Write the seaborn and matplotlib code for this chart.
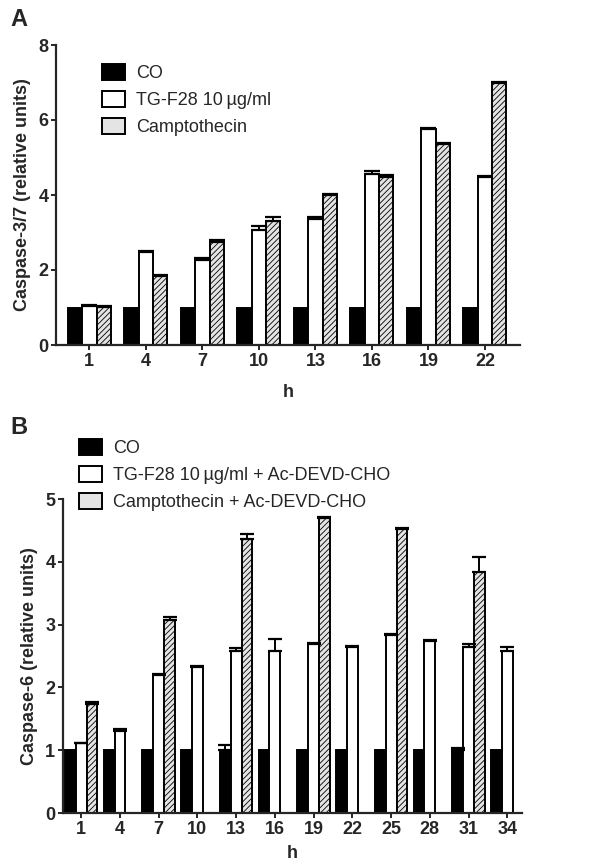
import numpy as np
import pandas as pd
import matplotlib
matplotlib.use('Agg')
import matplotlib.pyplot as plt
import seaborn as sns

# panel A: caspase-3/7
hours_a = ['1', '4', '7', '10', '13', '16', '19', '22']
co_a = [1, 1, 1, 1, 1, 1, 1, 1]
tg_a = [1.04, 2.47, 2.27, 3.08, 3.36, 4.56, 5.75, 4.49]
tg_a_err = [0.04, 0.05, 0.05, 0.10, 0.06, 0.09, 0.03, 0.02]
camp_a = [1.02, 1.85, 2.76, 3.31, 4.00, 4.49, 5.36, 6.98]
camp_a_err = [0.01, 0.02, 0.03, 0.10, 0.04, 0.03, 0.02, 0.03]

# panel B: caspase-6
hours_b = ['1', '4', '7', '10', '13', '16', '19', '22', '25', '28', '31', '34']
co_b = [1, 1, 1, 1, 1, 1, 1, 1, 1, 1, 1, 1]
co_b_err = [0, 0, 0, 0, 0.09, 0, 0, 0, 0, 0, 0.04, 0]
tg_b = [1.11, 1.31, 2.20, 2.32, 2.58, 2.58, 2.69, 2.65, 2.84, 2.74, 2.65, 2.58]
tg_b_err = [0.01, 0.02, 0.01, 0.02, 0.04, 0.19, 0.01, 0.01, 0.01, 0.01, 0.04, 0.06]
camp_b = [1.74, np.nan, 3.08, np.nan, 4.36, np.nan, 4.69, np.nan, 4.53, np.nan, 3.84, np.nan]
camp_b_err = [0.02, 0, 0.04, 0, 0.09, 0, 0.03, 0, 0.01, 0, 0.24, 0]

sns.set_style('ticks')
plt.rcParams['font.family'] = ['Liberation Sans Narrow', 'Liberation Sans', 'DejaVu Sans']
plt.rcParams['hatch.linewidth'] = 0.6


def make_df(hours, series):
    rows = []
    for name, vals, errs in series:
        for h, v, e in zip(hours, vals, errs):
            rows.append({'h': h, 'grp': name, 'val': v, 'err': e})
    return pd.DataFrame(rows)


def draw_panel(ax, df, hours, order, width, ymax, yticks, ylabel, cap, xpad):
    sns.barplot(data=df.dropna(subset=['val']), x='h', y='val', hue='grp',
                order=hours, hue_order=order, width=width,
                palette=['black', 'white', '#e4e4e4'], edgecolor='black',
                linewidth=1.4, errorbar=None, legend=True, ax=ax)
    for name, cont in zip(order, ax.containers):
        sub = df[(df['grp'] == name)].dropna(subset=['val'])
        sub = sub.set_index('h').reindex([h for h in hours if h in set(sub['h'])])
        for patch, (_, r) in zip(cont.patches, sub.iterrows()):
            if name == order[2]:
                patch.set_hatch('//////')
            if r['err'] > 0:
                xc = patch.get_x() + patch.get_width() / 2
                ax.errorbar(xc, r['val'], yerr=[[0], [r['err']]], fmt='none',
                            ecolor='black', elinewidth=1.4, capsize=cap, capthick=1.6)
    ax.set_ylim(0, ymax)
    ax.set_yticks(yticks)
    ax.set_ylabel(ylabel, fontsize=13, fontweight='bold', labelpad=5)
    ax.set_xlabel('h', fontsize=13, fontweight='bold', labelpad=xpad)
    for lab in ax.get_xticklabels() + ax.get_yticklabels():
        lab.set_fontweight('bold')
    ax.tick_params(labelsize=13, width=1.4, length=3.5, pad=2)
    for s in ['left', 'bottom']:
        ax.spines[s].set_linewidth(1.6)
    sns.despine(ax=ax)


fig = plt.figure(figsize=(6.05, 8.67), dpi=100)
ax1 = fig.add_axes([56 / 605, 1 - 345 / 867, 464 / 605, 300 / 867])
ax2 = fig.add_axes([63 / 605, 1 - 813 / 867, 459 / 605, 314 / 867])

labels_a = ['CO', 'TG-F28 10\u2009µg/ml', 'Camptothecin']
df_a = make_df(hours_a, [(labels_a[0], co_a, [0] * 8),
                         (labels_a[1], tg_a, tg_a_err),
                         (labels_a[2], camp_a, camp_a_err)])
draw_panel(ax1, df_a, hours_a, labels_a, 0.76, 8, [0, 2, 4, 6, 8],
           'Caspase-3/7 (relative units)', 6, 10)
ax1.set_xlim(-0.59, 7.62)

labels_b = ['CO', 'TG-F28 10\u2009µg/ml + Ac-DEVD-CHO', 'Camptothecin + Ac-DEVD-CHO']
df_b = make_df(hours_b, [(labels_b[0], co_b, co_b_err),
                         (labels_b[1], tg_b, tg_b_err),
                         (labels_b[2], camp_b, camp_b_err)])
draw_panel(ax2, df_b, hours_b, labels_b, 0.84, 5, [0, 1, 2, 3, 4, 5],
           'Caspase-6 (relative units)', 5, 5)
ax2.set_xlim(-0.47, 11.38)

for ax, anchor in [(ax1, (88 / 605, 1 - 50 / 867)), (ax2, (65 / 605, 1 - 425 / 867))]:
    leg = ax.legend(loc='upper left', bbox_to_anchor=anchor, bbox_transform=fig.transFigure,
                    frameon=False, fontsize=13, handlelength=1.25, handleheight=0.95,
                    handletextpad=0.6, labelspacing=0.5, borderpad=0.3)
    for p in leg.get_patches():
        p.set_linewidth(1.4)

fig.text(10 / 605, 1 - 20 / 867, 'A', fontsize=17, fontweight='bold', va='center')
fig.text(10 / 605, 1 - 428 / 867, 'B', fontsize=17, fontweight='bold', va='center')

fig.savefig('out.png', dpi=100)
